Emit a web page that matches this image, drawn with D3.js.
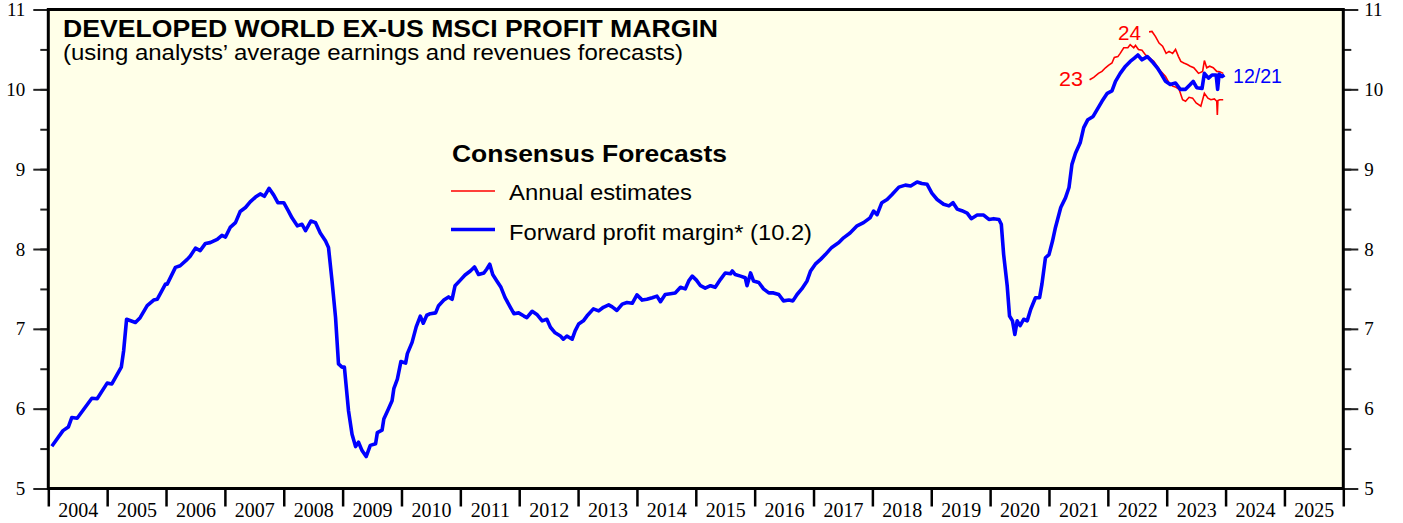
<!DOCTYPE html>
<html><head><meta charset="utf-8">
<script src="https://cdn.jsdelivr.net/npm/d3@7"></script>
<style>
html,body{margin:0;padding:0;background:#fff;}
svg{display:block;}
</style></head>
<body><svg id="c" width="1403" height="523"></svg>
<script>
// ---- data ----
const yearTicks = d3.range(2004, 2027);
const yearLabels = ["2004","2005","2006","2007","2008","2009","2010","2011","2012","2013","2014","2015","2016","2017","2018","2019","2020","2021","2022","2023","2024","2025"];
const yTickValues = [5,6,7,8,9,10,11];
const fwdDates = [2004.06,2004.25,2004.34,2004.40,2004.49,2004.74,2004.83,2005.00,2005.08,2005.24,2005.28,2005.33,2005.48,2005.56,2005.68,2005.79,2005.85,2005.99,2006.02,2006.16,2006.24,2006.36,
2006.41,2006.50,2006.58,2006.67,2006.75,2006.87,2006.95,2007.01,2007.09,2007.18,2007.26,2007.35,2007.43,2007.52,2007.60,2007.67,2007.75,2007.83,2007.90,2008.00,2008.08,2008.14,2008.23,2008.31,2008.37,2008.46,2008.54,2008.62,2008.71,2008.76,2008.82,2008.88,2008.93,2008.99,2009.03,2009.10,2009.16,2009.22,2009.27,2009.33,2009.40,2009.47,2009.56,2009.59,2009.67,2009.70,2009.78,2009.84,2009.87,2009.93,2009.99,2010.07,2010.10,2010.18,2010.25,2010.32,2010.37,2010.43,
2010.49,2010.58,2010.63,2010.72,2010.80,2010.86,2010.91,2011.00,2011.08,2011.17,2011.24,2011.31,2011.40,2011.45,2011.50,2011.55,2011.62,2011.69,2011.76,2011.85,2011.91,2011.99,2012.08,2012.13,2012.22,2012.30,2012.39,2012.47,2012.53,2012.61,2012.70,2012.75,2012.81,2012.90,2012.95,2013.01,2013.09,2013.15,2013.26,2013.35,2013.43,2013.52,2013.58,2013.66,2013.75,2013.83,2013.92,2014.00,2014.09,2014.17,2014.26,2014.34,2014.40,2014.48,2014.57,2014.65,2014.74,2014.82,2014.88,2014.94,2015.01,2015.08,2015.16,2015.25,2015.33,2015.42,2015.50,2015.59,2015.62,2015.67,2015.76,2015.84,2015.87,2015.93,2015.98,2016.07,2016.15,2016.24,2016.32,2016.41,2016.49,2016.58,2016.65,2016.72,2016.80,2016.89,2016.95,2017.03,2017.12,
2017.20,2017.31,2017.43,2017.51,2017.62,2017.74,2017.85,2017.96,2018.02,2018.08,2018.16,2018.25,2018.33,2018.45,2018.56,2018.65,2018.76,2018.84,2018.93,2019.01,2019.10,2019.21,2019.30,2019.37,2019.44,2019.52,2019.61,2019.68,2019.78,2019.89,2019.98,2020.06,2020.15,2020.19,2020.23,2020.29,2020.33,2020.38,2020.42,2020.46,2020.51,2020.57,2020.63,2020.69,2020.77,2020.84,2020.88,2020.94,2021.00,2021.06,2021.11,2021.20,2021.28,2021.34,2021.39,2021.45,2021.53,2021.59,2021.66,2021.75,2021.82,2021.90,2021.99,2022.07,2022.13,2022.21,2022.30,2022.38,2022.45,2022.51,2022.58,2022.67,2022.75,2022.84,2022.90,2022.98,2023.06,2023.15,2023.23,2023.32,2023.40,2023.45,2023.51,2023.60,2023.64,2023.71,2023.77,2023.84,2023.865,2023.89,2023.94,2023.98];
const fwdValues = [5.53,5.725,5.77,5.89,5.88,6.13,6.125,6.32,6.31,6.52,6.725,7.12,7.08,7.14,7.29,7.36,7.37,7.56,7.56,7.77,7.79,7.87,
7.91,8.01,7.98,8.07,8.08,8.12,8.17,8.15,8.27,8.33,8.47,8.52,8.59,8.65,8.69,8.66,8.76,8.675,8.58,8.58,8.475,8.39,8.29,8.31,8.23,8.35,8.33,8.20,8.10,8.02,7.60,7.14,6.56,6.52,6.52,5.975,5.68,5.525,5.58,5.475,5.40,5.54,5.56,5.70,5.73,5.87,6.00,6.10,6.25,6.37,6.59,6.57,6.69,6.83,7.025,7.16,7.07,7.17,
7.19,7.20,7.29,7.36,7.40,7.37,7.54,7.61,7.675,7.725,7.775,7.68,7.70,7.75,7.81,7.68,7.60,7.52,7.39,7.27,7.19,7.20,7.16,7.14,7.22,7.18,7.10,7.12,7.02,6.95,6.91,6.87,6.91,6.87,6.975,7.06,7.10,7.16,7.25,7.225,7.27,7.30,7.275,7.23,7.31,7.33,7.32,7.425,7.36,7.37,7.39,7.41,7.34,7.43,7.44,7.45,7.52,7.50,7.60,7.66,7.61,7.54,7.51,7.54,7.52,7.62,7.70,7.69,7.725,7.68,7.66,7.64,7.54,7.70,7.60,7.58,7.50,7.45,7.45,7.43,7.35,7.36,7.35,7.43,7.50,7.60,7.725,7.81,7.87,
7.93,8.02,8.08,8.14,8.20,8.29,8.33,8.39,8.475,8.43,8.58,8.62,8.68,8.775,8.80,8.79,8.84,8.82,8.81,8.70,8.62,8.56,8.54,8.58,8.50,8.48,8.45,8.38,8.425,8.425,8.37,8.38,8.37,8.31,7.93,7.54,7.16,7.10,6.93,7.10,7.04,7.12,7.10,7.245,7.39,7.39,7.56,7.89,7.93,8.10,8.27,8.52,8.64,8.77,9.06,9.20,9.33,9.52,9.62,9.66,9.75,9.85,9.95,9.98,10.10,10.20,10.29,10.35,10.39,10.43,10.37,10.41,10.35,10.27,10.20,10.10,10.06,10.08,10.00,10.00,10.06,10.10,10.02,10.01,10.20,10.14,10.18,10.18,10.00,10.19,10.16,10.18];
const est23Dates = [2021.69,2021.76,2021.84,2021.90,2021.96,2022.01,2022.07,2022.11,2022.17,2022.21,2022.27,2022.34,2022.38,2022.44,2022.47,2022.52,2022.58,2022.64,2022.70,2022.78,2022.90,2022.98,2023.04,2023.10,2023.16,2023.21,2023.27,2023.32,2023.38,2023.44,2023.50,2023.58,2023.64,2023.70,2023.75,2023.81,2023.85,2023.86,2023.87,2023.90,2023.96];
const est23Values = [10.12,10.15,10.20,10.225,10.27,10.30,10.33,10.40,10.41,10.45,10.52,10.52,10.56,10.52,10.55,10.50,10.49,10.43,10.40,10.35,10.225,10.16,10.08,10.04,10.025,10.00,9.87,9.85,9.90,9.89,9.83,9.79,9.95,9.89,9.87,9.88,9.85,9.68,9.86,9.87,9.87];
const est24Dates = [2022.70,2022.75,2022.81,2022.87,2022.93,2022.99,2023.04,2023.10,2023.15,2023.20,2023.24,2023.29,2023.35,2023.40,2023.46,2023.54,2023.61,2023.64,2023.68,2023.73,2023.79,2023.85,2023.90,2023.96];
const est24Values = [10.72,10.725,10.66,10.58,10.54,10.45,10.475,10.45,10.50,10.41,10.35,10.33,10.31,10.29,10.27,10.20,10.225,10.36,10.27,10.29,10.27,10.225,10.22,10.20];

// ---- layout ----
const svg = d3.select("#c");
const L = 48.3, R = 1343.3, T = 9.5, B = 488.5;
const x = d3.scaleLinear().domain([2004, 2026]).range([L, R]);
const y = d3.scaleLinear().domain([5, 11]).range([B, T]);
const sans = "'Liberation Sans', Arial, Helvetica, sans-serif";
const serif = "'Liberation Serif', 'Times New Roman', serif";

svg.append("rect").attr("x", L).attr("y", T).attr("width", R - L).attr("height", B - T)
  .attr("fill", "#ffffe8");

// y axes
const minor = d3.range(5, 11.01, 0.5);
function yAxis(side) {
  const g = svg.append("g").attr("transform", `translate(${side === "left" ? L : R},0)`);
  const ax = (side === "left" ? d3.axisLeft(y) : d3.axisRight(y));
  g.call(ax.tickValues(minor).tickSize(8).tickFormat(""));
  const g2 = svg.append("g").attr("transform", `translate(${side === "left" ? L : R},0)`);
  const ax2 = (side === "left" ? d3.axisLeft(y) : d3.axisRight(y));
  g2.call(ax2.tickValues(yTickValues).tickSize(15).tickPadding(side === "left" ? 8 : 6).tickFormat(d3.format("d")));
  [g, g2].forEach(gg => {
    gg.select(".domain").remove();
    gg.selectAll(".tick line").attr("stroke", "#222").attr("stroke-width", 2);
  });
  g2.selectAll(".tick text").attr("font-family", serif).attr("font-size", 19).attr("fill", "#000");
}
yAxis("left"); yAxis("right");

// x axis
const gx = svg.append("g").attr("transform", `translate(0,${B})`)
  .call(d3.axisBottom(x).tickValues(yearTicks).tickSize(18).tickFormat(""));
gx.select(".domain").remove();
gx.selectAll(".tick line").attr("stroke", "#000").attr("stroke-width", 2.5);
const gxl = svg.append("g").attr("transform", `translate(0,${B})`)
  .call(d3.axisBottom(x).tickValues(yearLabels.map(d => +d + 0.5)).tickSize(0).tickPadding(14)
    .tickFormat((d, i) => yearLabels[i]));
gxl.select(".domain").remove();
gxl.selectAll(".tick text").attr("font-family", serif).attr("font-size", 20).attr("fill", "#000");

// frame
svg.append("rect").attr("x", L).attr("y", T).attr("width", R - L).attr("height", B - T)
  .attr("fill", "none").attr("stroke", "#000").attr("stroke-width", 3);

// lines
const mk = (ds, vs) => ds.map((d, i) => [d, vs[i]]);
const line = d3.line().x(d => x(d[0])).y(d => y(d[1]));
svg.append("path").datum(mk(est23Dates, est23Values)).attr("d", line)
  .attr("fill", "none").attr("stroke", "#ff0000").attr("stroke-width", 1.6);
svg.append("path").datum(mk(est24Dates, est24Values)).attr("d", line)
  .attr("fill", "none").attr("stroke", "#ff0000").attr("stroke-width", 1.6);
svg.append("path").datum(mk(fwdDates, fwdValues)).attr("d", line)
  .attr("fill", "none").attr("stroke", "#0000ff").attr("stroke-width", 3.6).attr("stroke-linejoin", "round");

// titles
function txt(s, xx, yy, size, weight, color, len, anchor) {
  const t = svg.append("text").attr("x", xx).attr("y", yy).attr("font-family", sans)
    .attr("font-size", size).attr("font-weight", weight).attr("fill", color).text(s);
  if (anchor) t.attr("text-anchor", anchor);
  if (len) t.attr("textLength", len).attr("lengthAdjust", "spacingAndGlyphs");
  return t;
}
txt("DEVELOPED WORLD EX-US MSCI PROFIT MARGIN", 63, 37, 23, "bold", "#000", 655);
txt("(using analysts’ average earnings and revenues forecasts)", 63, 60, 22, "normal", "#000", 620);

// legend
txt("Consensus Forecasts", 452, 162, 24, "bold", "#000", 275);
svg.append("line").attr("x1", 451).attr("x2", 495).attr("y1", 191).attr("y2", 191)
  .attr("stroke", "#ff0000").attr("stroke-width", 1.6);
txt("Annual estimates", 509, 200, 22, "normal", "#000", 183);
svg.append("line").attr("x1", 451).attr("x2", 495).attr("y1", 229.5).attr("y2", 229.5)
  .attr("stroke", "#0000ff").attr("stroke-width", 3.4);
txt("Forward profit margin* (10.2)", 509, 240, 22, "normal", "#000", 303);

// annotations
txt("23", 1083, 86, 20, "normal", "#ff0000", 24, "end");
txt("24", 1118, 40, 20, "normal", "#ff0000", 23);
txt("12/21", 1233, 83, 20, "normal", "#0000ff", 49);
</script></body></html>
